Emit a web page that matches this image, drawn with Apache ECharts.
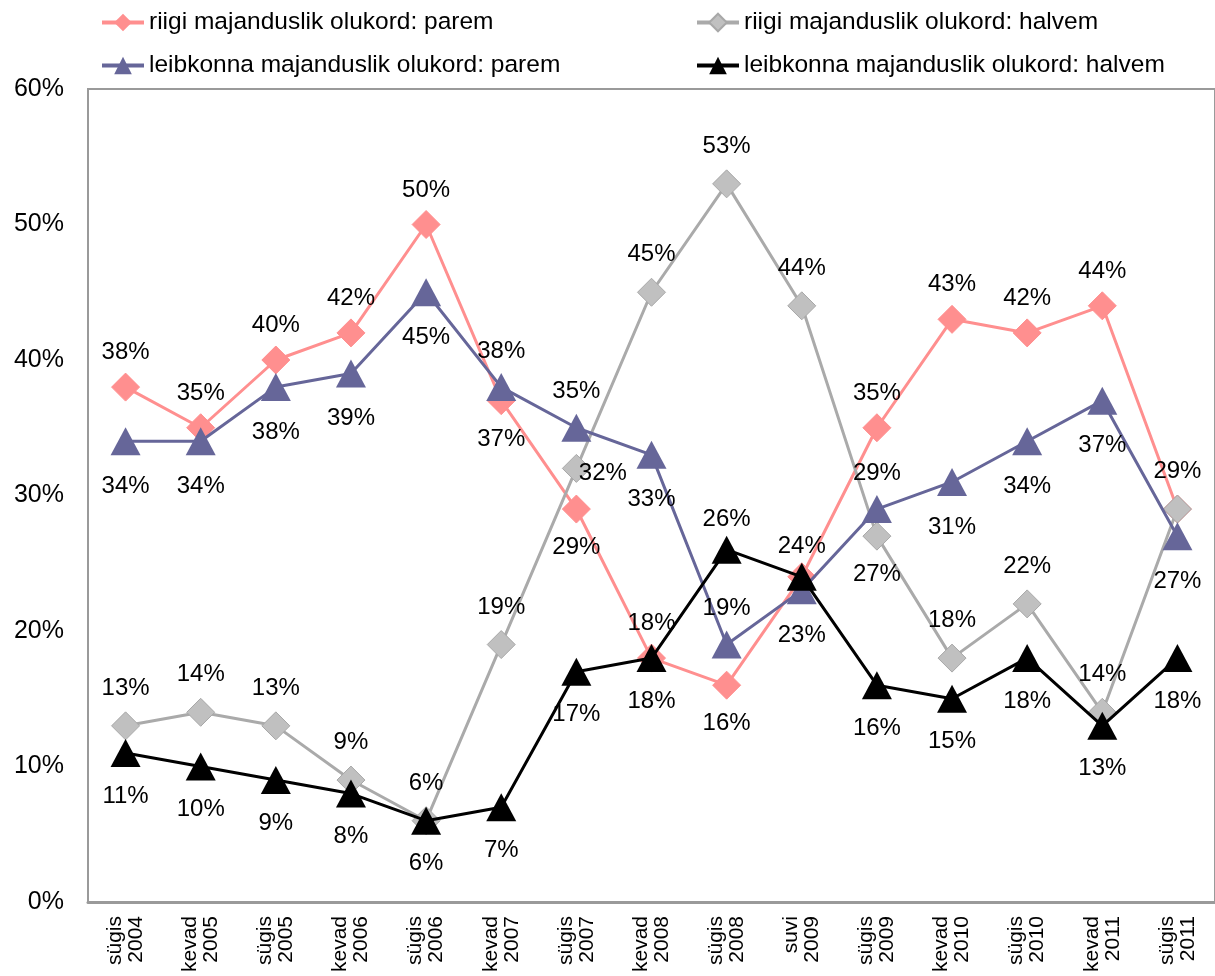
<!DOCTYPE html>
<html>
<head>
<meta charset="utf-8">
<script src="https://cdn.jsdelivr.net/npm/echarts@6/dist/echarts.min.js"></script>
<style>
html,body{margin:0;padding:0;background:#fff;}
#chart{width:1215px;height:976px;}
</style>
</head>
<body>
<div id="chart"></div>
<script>
var categories = ['sügis\n2004','kevad\n2005','sügis\n2005','kevad\n2006','sügis\n2006','kevad\n2007','sügis\n2007','kevad\n2008','sügis\n2008','suvi\n2009','sügis\n2009','kevad\n2010','sügis\n2010','kevad\n2011','sügis\n2011'];
var seriesNames = ['riigi majanduslik olukord: parem','riigi majanduslik olukord: halvem','leibkonna majanduslik olukord: parem','leibkonna majanduslik olukord: halvem'];
var riigiParem = [38,35,40,42,50,37,29,18,16,24,35,43,42,44,29];
var riigiHalvem = [13,14,13,9,6,19,32,45,53,44,27,18,22,14,29];
var leibkonnaParem = [34,34,38,39,45,38,35,33,19,23,29,31,34,37,27];
var leibkonnaHalvem = [11,10,9,8,6,7,17,18,26,24,16,15,18,13,18];
var yTicks = [0,10,20,30,40,50,60];

// label placement per point (null = no label shown)
var riigiParemPos = ['top','top','top','top','top','bottom','bottom','top','bottom',null,'top','top','top','top',null];
var riigiHalvemPos = ['top','top','top','top','top','top','right','top','top','top','bottom','top','top','top','top'];
var leibkonnaParemPos = ['bottom','bottom','bottom','bottom','bottom','top','top','bottom','top','bottom','top','bottom','bottom','bottom','bottom'];
var leibkonnaHalvemPos = ['bottom','bottom','bottom','bottom','bottom','bottom','bottom','bottom','top','top','bottom','bottom','bottom','bottom','bottom'];

var FONT = '"Liberation Sans", Arial, sans-serif';
var LABEL_SIZE = 24;

function buildData(values, positions, distTop, distBottom) {
  return values.map(function (v, i) {
    var p = positions[i];
    if (p === null) return { value: v, label: { show: false } };
    var lab = { show: true, position: p };
    if (p === 'top') lab.distance = distTop;
    else if (p === 'bottom') lab.distance = distBottom;
    else if (p === 'right') { lab.distance = -12; lab.offset = [0, 5]; }
    return { value: v, label: lab };
  });
}

var labelBase = {
  show: true,
  color: '#000',
  fontFamily: FONT,
  fontSize: LABEL_SIZE,
  formatter: function (p) { return p.value + '%'; }
};

var colors = ['#FF8F8F', '#B4B4B4', '#666699', '#000000'];

var chart = echarts.init(document.getElementById('chart'), null, { renderer: 'canvas' });

function legendAt(name, left, top) {
  return {
    data: [name],
    left: left,
    top: top,
    itemWidth: 42,
    itemHeight: 22,
    itemGap: 0,
    lineStyle: { width: 4 },
    textStyle: { fontFamily: FONT, fontSize: 24.5, color: '#000', padding: [0, 0, 0, 0] },
    selectedMode: false
  };
}

var option = {
  animation: false,
  backgroundColor: '#fff',
  color: colors,
  legend: [
    legendAt(seriesNames[0], 95, 5),
    legendAt(seriesNames[1], 690, 5),
    legendAt(seriesNames[2], 95, 48),
    legendAt(seriesNames[3], 690, 48)
  ],
  grid: {
    show: true,
    left: 88,
    top: 89,
    width: 1128,
    height: 813,
    borderColor: '#9A9A9A',
    borderWidth: 2,
    containLabel: false
  },
  xAxis: {
    type: 'category',
    data: categories,
    boundaryGap: true,
    axisLine: { lineStyle: { color: '#9A9A9A', width: 3 } },
    axisTick: { show: false },
    axisLabel: {
      rotate: 90,
      interval: 0,
      margin: 14,
      fontFamily: FONT,
      fontSize: 21,
      lineHeight: 21,
      color: '#000'
    },
    splitLine: { show: false }
  },
  yAxis: {
    type: 'value',
    min: 0,
    max: 60,
    interval: 10,
    axisLine: { show: true, lineStyle: { color: '#9A9A9A', width: 2 } },
    axisTick: { show: false },
    splitLine: { show: false },
    axisLabel: {
      margin: 24,
      fontFamily: FONT,
      fontSize: 25,
      color: '#000',
      formatter: function (v) { return yTicks.indexOf(v) >= 0 ? v + '%' : ''; }
    }
  },
  series: [
    {
      name: seriesNames[0],
      type: 'line',
      data: buildData(riigiParem, riigiParemPos, 8, 12),
      symbol: 'diamond',
      symbolSize: 28,
      lineStyle: { width: 3, color: colors[0] },
      itemStyle: { color: colors[0], borderColor: colors[0] },
      label: labelBase,
      z: 2
    },
    {
      name: seriesNames[1],
      type: 'line',
      data: buildData(riigiHalvem, riigiHalvemPos, 11, 12),
      symbol: 'diamond',
      symbolSize: 28,
      lineStyle: { width: 3, color: '#AAAAAA' },
      itemStyle: { color: '#C0C0C0', borderColor: '#A8A8A8', borderWidth: 1 },
      label: labelBase,
      z: 3
    },
    {
      name: seriesNames[2],
      type: 'line',
      data: buildData(leibkonnaParem, leibkonnaParemPos, 10, 19),
      symbol: 'triangle',
      symbolSize: [30, 28],
      lineStyle: { width: 3, color: colors[2] },
      itemStyle: { color: colors[2] },
      label: labelBase,
      z: 4
    },
    {
      name: seriesNames[3],
      type: 'line',
      data: buildData(leibkonnaHalvem, leibkonnaHalvemPos, 4, 17),
      symbol: 'triangle',
      symbolSize: [30, 28],
      lineStyle: { width: 3, color: colors[3] },
      itemStyle: { color: colors[3] },
      label: labelBase,
      z: 5
    }
  ]
};

chart.setOption(option);
</script>
</body>
</html>
